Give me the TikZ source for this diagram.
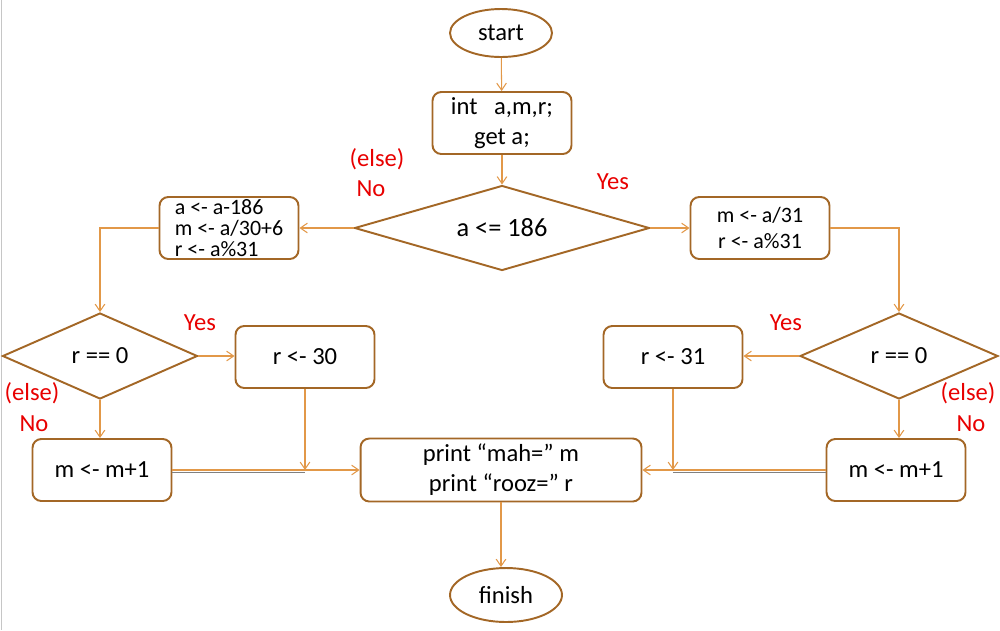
\documentclass[tikz,border=0pt]{standalone}
\usepackage{fontspec}
\setmainfont{Carlito}
\usetikzlibrary{shapes,arrows,arrows.meta,calc,shapes.geometric}
\definecolor{boxline}{RGB}{163,103,38}
\definecolor{flow}{RGB}{226,152,72}
\definecolor{lbl}{RGB}{232,0,0}
\tikzset{
  block/.style={draw=boxline, line width=1.1pt, rounded corners=5pt, minimum width=2.78cm,
    minimum height=1.24cm, align=center, inner sep=1pt, font=\fontsize{14}{17}\selectfont},
  term/.style={ellipse, draw=boxline, line width=1.1pt, minimum width=2.04cm,
    minimum height=0.96cm, inner sep=0pt, font=\fontsize{14}{17}\selectfont},
  decision/.style={diamond, draw=boxline, line width=1.1pt, minimum width=3.9cm,
    minimum height=1.72cm, aspect=2.3, inner sep=0pt, font=\fontsize{14}{17}\selectfont},
  flowline/.style={draw=flow, line width=0.6pt, -{Straight Barb[length=4pt,width=5.5pt]}},
  answer/.style={text=lbl, inner sep=0pt, font=\fontsize{14}{17}\selectfont}
}
\begin{document}
\begin{tikzpicture}[x=0.02cm,y=-0.02cm]
    \useasboundingbox (0,0) rectangle (1000,630);
    \draw[gray!45, line width=1pt] (1.5,0) -- (1.5,630);

    % nodes
    \node[term] (start) at (501,33) {start};
    \node[block] (init) at (502,123) {int\ \ \ a,m,r;\\get a;};
    \node[decision, minimum width=5.9cm, minimum height=1.7cm, aspect=3.5,
      font=\fontsize{15}{18}\selectfont] (cmp) at (502,228) {a <= 186};
    \node[block, align=left, font=\fontsize{12.5}{11.8}\selectfont] (big) at (229,228)
      {a <- a-186\\m <- a/30+6\\r <- a\%31};
    \node[block, font=\fontsize{12.5}{15}\selectfont] (small) at (760,228) {m <- a/31\\r <- a\%31};
    \node[decision] (zl) at (100,356) {r == 0};
    \node[block] (rl) at (305,357) {r <- 30};
    \node[block] (ml) at (102,470) {m <- m+1};
    \node[block, minimum width=5.62cm, minimum height=1.26cm] (out) at (501,470)
      {print “mah=” m\\print “rooz=” r};
    \node[block] (rr) at (673,357) {r <- 31};
    \node[decision, minimum width=3.96cm] (zr) at (899,356) {r == 0};
    \node[block] (mr) at (896,470) {m <- m+1};
    \node[term, minimum width=2.24cm, minimum height=1.08cm] (finish) at (506,595) {finish};

    % labels
    \node[answer] (elsea) at (377,159) {(else)};
    \node[answer] (noa) at (371,189) {No};
    \node[answer] (yesa) at (613,182) {Yes};
    \node[answer] (yesl) at (200,323) {Yes};
    \node[answer] (elsel) at (32,393) {(else)};
    \node[answer] (nol) at (34,424) {No};
    \node[answer] (yesr) at (786,323) {Yes};
    \node[answer] (elser) at (968,393) {(else)};
    \node[answer] (nor) at (971,424) {No};

    % connectors
    \draw[flowline] (start) -- (init);
    \draw[flowline] (init) -- (cmp);
    \draw[flowline] (cmp) -- (big);
    \draw[flowline] (cmp) -- (small);
    \draw[flowline] (big.west) -| (zl.north);
    \draw[flowline] (small.east) -| (zr.north);
    \draw[flowline] (zl.east) -- (zl.east -| rl.west);
    \draw[flowline] (zr.west) -- (zr.west -| rr.east);
    \draw[flowline] (zl.south) -- (zl.south |- ml.north);
    \draw[flowline] (zr.south) -- (zr.south |- mr.north);
    \coordinate (jl) at (rl.south |- out.west);
    \coordinate (jr) at (rr.south |- out.east);
    \draw[gray, line width=0.6pt] ($(ml.east)+(0,2.5)$) -- ($(jl)+(0,2.5)$);
    \draw[gray, line width=0.6pt] ($(mr.west)+(0,2.5)$) -- ($(jr)+(0,2.5)$);
    \draw[flowline] (ml.east) -- (out.west);
    \draw[flowline] (mr.west) -- (out.east);
    \draw[flowline] (rl.south) -- (jl);
    \draw[flowline] (rr.south) -- (jr);
    \draw[flowline] (out.south) -- (out.south |- finish.north);
\end{tikzpicture}
\end{document}
